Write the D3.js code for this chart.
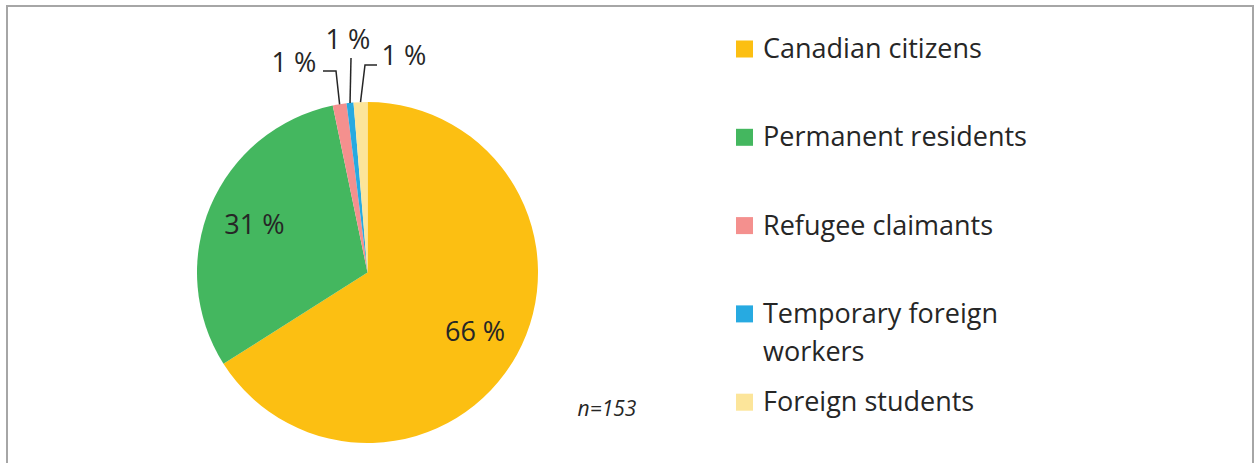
<!DOCTYPE html>
<html>
<head>
<meta charset="utf-8">
<script src="https://cdn.jsdelivr.net/npm/d3@7"></script>
<style>
  body { margin: 0; background: #fff; }
  text { font-family: "Open Sans", Lato, sans-serif; fill: #262626; }
</style>
</head>
<body>
<div id="chart"></div>
<script>
// Chart data
var categories = ["Canadian citizens", "Permanent residents", "Refugee claimants", "Temporary foreign workers", "Foreign students"];
var counts = [101, 47, 2, 1, 2];
var colors = ["#FCBF12", "#44B75F", "#F4908E", "#27AAE1", "#FCE59A"];
var sampleNote = "n=153";

// SVG container
var svgWidth = 1254;
var svgHeight = 463;

var svg = d3.select("#chart").append("svg")
            .attr("width", svgWidth)
            .attr("height", svgHeight);

// Frame
svg.append("rect")
   .attr("x", 7)
   .attr("y", 6)
   .attr("width", 1246)
   .attr("height", 480)
   .attr("fill", "none")
   .attr("stroke", "#a6a6a6")
   .attr("stroke-width", 2);

// Pie geometry
var cx = 367.5, cy = 272.5, radius = 170.5;
var total = d3.sum(counts);

var pie = d3.pie().sort(null).value(d => d.value);
var arc = d3.arc().innerRadius(0).outerRadius(radius);

var pieData = pie(categories.map((c, i) => ({ name: c, value: counts[i], color: colors[i] })));

var pieGroup = svg.append("g")
                  .attr("transform", `translate(${cx}, ${cy})`);

pieGroup.selectAll("path")
        .data(pieData)
        .enter()
        .append("path")
        .attr("d", arc)
        .attr("fill", d => d.data.color);

var pct = d => Math.round(d.data.value / total * 100) + " %";

// Labels inside the big slices
var insideArc = d3.arc().innerRadius(radius * 0.72).outerRadius(radius * 0.72);
pieGroup.selectAll(".inLabel")
        .data(pieData.slice(0, 2))
        .enter()
        .append("text")
        .attr("class", "inLabel")
        .attr("x", d => insideArc.centroid(d)[0])
        .attr("y", d => insideArc.centroid(d)[1])
        .attr("dy", "0.35em")
        .attr("text-anchor", "middle")
        .attr("font-size", "27px")
        .text(pct);

// Small slices with leader lines: elbow position, label position
var leaders = [
  { elbow: [336 - cx, 71 - cy], tail: [323 - cx, 71 - cy], label: [294 - cx, 72 - cy] },
  { elbow: [351 - cx, 58 - cy], tail: null,                label: [348 - cx, 49 - cy] },
  { elbow: [365 - cx, 65 - cy], tail: [377 - cx, 65 - cy], label: [404 - cx, 65 - cy] }
];

pieData.slice(2).forEach((d, i) => {
  var a = (d.startAngle + d.endAngle) / 2;
  var p = [Math.sin(a) * radius, -Math.cos(a) * radius];
  var L = leaders[i];
  var pts = [p, L.elbow];
  if (L.tail) pts.push(L.tail);
  pieGroup.append("path")
          .attr("d", d3.line()(pts))
          .attr("fill", "none")
          .attr("stroke", "#262626")
          .attr("stroke-width", 1.5);
  pieGroup.append("text")
          .attr("x", L.label[0])
          .attr("y", L.label[1])
          .attr("text-anchor", "middle")
          .attr("font-size", "27px")
          .text(pct(d));
});

// Sample size note
svg.append("text")
   .attr("x", 607)
   .attr("y", 416)
   .attr("text-anchor", "middle")
   .attr("font-size", "21px")
   .attr("font-style", "italic")
   .text(sampleNote);

// Legend
var legendX = 736, legendTop = 49, legendStep = 88.3;
var legend = svg.append("g");
categories.forEach((c, i) => {
  var y = legendTop + i * legendStep;
  legend.append("rect")
        .attr("x", legendX)
        .attr("y", y - 8.5)
        .attr("width", 17)
        .attr("height", 17)
        .attr("fill", colors[i]);
  var lines = c === "Temporary foreign workers" ? ["Temporary foreign", "workers"] : [c];
  var t = legend.append("text")
                .attr("x", legendX + 27)
                .attr("y", y + 9)
                .attr("font-size", "27px");
  lines.forEach((ln, j) => {
    t.append("tspan")
     .attr("x", legendX + 27)
     .attr("dy", j === 0 ? 0 : 38)
     .text(ln);
  });
});
</script>
</body>
</html>
